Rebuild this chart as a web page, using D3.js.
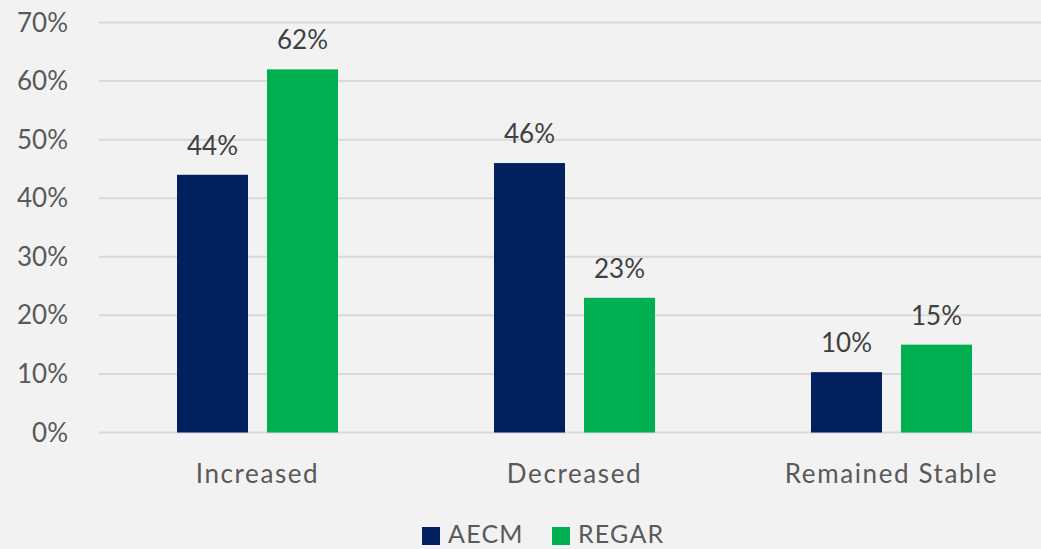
<!DOCTYPE html>
<html>
<head>
<meta charset="utf-8">
<script src="https://d3js.org/d3.v7.min.js"></script>
<style>
  body { margin: 0; background: #f2f2f2; }
  svg { display: block; font-family: Lato, "Open Sans", sans-serif; }
</style>
</head>
<body>
<div id="chart"></div>
<script>
// data
var categories = ["Increased", "Decreased", "Remained Stable"];
var seriesNames = ["AECM", "REGAR"];
var aecm = [44, 46, 10.3];
var regar = [62, 23, 15];
var valueLabels = [["44%", "46%", "10%"], ["62%", "23%", "15%"]];
var yTicks = [0, 10, 20, 30, 40, 50, 60, 70];
var colors = ["#002060", "#00b050"];

var width = 1041, height = 549;
var svg = d3.select("#chart").append("svg")
    .attr("width", width)
    .attr("height", height);

svg.append("rect").attr("width", width).attr("height", height).attr("fill", "#f2f2f2");

var x = d3.scaleBand().domain(categories).range([99, 1050]).paddingInner(0).paddingOuter(0);
var inner = d3.scaleBand().domain(seriesNames).range([78, 317 - 78]).paddingInner(19 / 161 * 2 / (1 + 19 / 161));
var y = d3.scaleLinear().domain([0, 70]).range([432.5, 22.5]);

// gridlines
svg.append("g").selectAll("line")
    .data(yTicks)
    .enter().append("line")
    .attr("x1", 99).attr("x2", width)
    .attr("y1", function (d) { return y(d); })
    .attr("y2", function (d) { return y(d); })
    .attr("stroke", "#d9d9d9")
    .attr("stroke-width", 2);

// y tick labels
svg.append("g").selectAll("text")
    .data(yTicks)
    .enter().append("text")
    .attr("x", 68)
    .attr("y", function (d) { return y(d); })
    .attr("dy", "0.35em")
    .attr("text-anchor", "end")
    .attr("fill", "#595959")
    .style("font-size", "26px")
    .text(function (d) { return d + "%"; });

var series = [aecm, regar];
series.forEach(function (vals, s) {
    var g = svg.append("g");
    g.selectAll("rect")
        .data(vals)
        .enter().append("rect")
        .attr("x", function (d, i) { return x(categories[i]) + inner(seriesNames[s]); })
        .attr("width", inner.bandwidth())
        .attr("y", function (d) { return y(d); })
        .attr("height", function (d) { return y(0) - y(d); })
        .attr("fill", colors[s]);
    g.selectAll("text")
        .data(vals)
        .enter().append("text")
        .attr("x", function (d, i) { return x(categories[i]) + inner(seriesNames[s]) + inner.bandwidth() / 2; })
        .attr("y", function (d) { return y(d) - 20; })
        .attr("text-anchor", "middle")
        .attr("fill", "#404040")
        .style("font-size", "26px")
        .text(function (d, i) { return valueLabels[s][i]; });
});

// category labels
svg.append("g").selectAll("text")
    .data(categories)
    .enter().append("text")
    .attr("x", function (d) { return x(d) + x.bandwidth() / 2; })
    .attr("y", 483)
    .attr("text-anchor", "middle")
    .attr("fill", "#595959")
    .style("font-size", "26px")
    .style("letter-spacing", "1.6px")
    .text(function (d) { return d; });

// legend
var legendX = [422, 552];
var legend = svg.append("g").selectAll("g")
    .data(seriesNames)
    .enter().append("g")
    .attr("transform", function (d, i) { return "translate(" + legendX[i] + ",0)"; });
legend.append("rect")
    .attr("x", 0).attr("y", 527)
    .attr("width", 18).attr("height", 18)
    .attr("fill", function (d, i) { return colors[i]; });
legend.append("text")
    .attr("x", 26).attr("y", 543)
    .attr("fill", "#595959")
    .style("font-size", "25px")
    .style("letter-spacing", "1.2px")
    .text(function (d) { return d; });
</script>
</body>
</html>
